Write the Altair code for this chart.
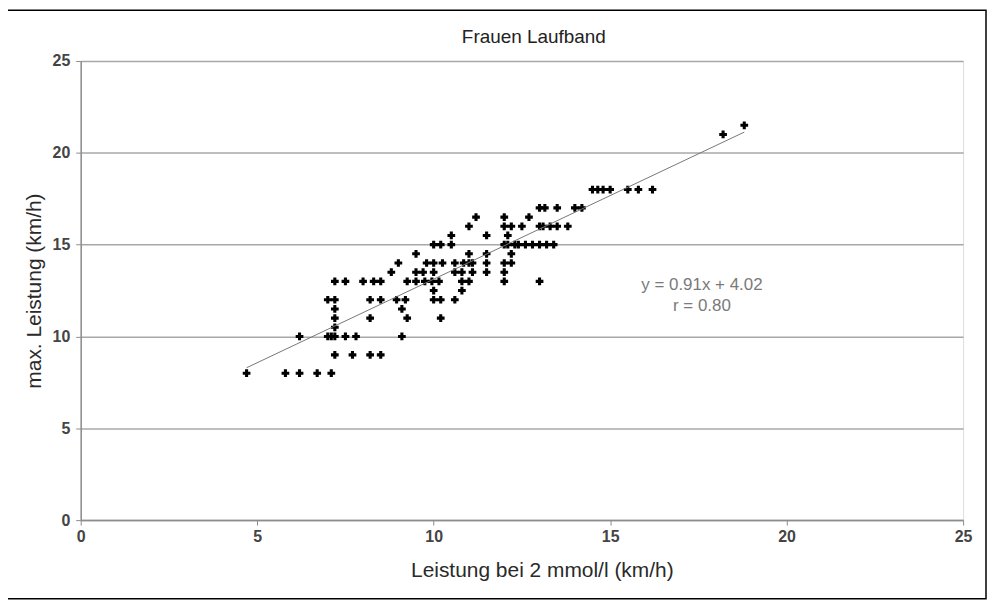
import altair as alt
import pandas as pd

# --- data ---
y_rows = [8, 9, 10, 10.5, 11, 11.5, 12, 12.5, 13, 13.5, 14, 14.5, 15, 15.5, 16, 16.5, 17, 18, 21, 21.5]
x_rows = [
    [4.7, 5.8, 6.2, 6.7, 7.1],
    [7.2, 7.7, 8.2, 8.5],
    [6.2, 7.0, 7.1, 7.2, 7.5, 7.8, 9.1],
    [7.2],
    [7.2, 8.2, 9.25, 10.2],
    [7.2, 9.1],
    [7.0, 7.2, 8.2, 8.5, 8.95, 9.2, 10.0, 10.2, 10.6],
    [10.0, 10.8],
    [7.2, 7.5, 8.0, 8.3, 8.5, 9.25, 9.5, 9.75, 9.95, 10.15, 10.8, 11.0, 12.0, 13.0],
    [8.8, 9.5, 9.7, 10.0, 10.6, 10.8, 11.1, 11.5, 12.0],
    [9.0, 9.8, 10.0, 10.25, 10.6, 10.85, 11.0, 11.1, 11.5, 12.0, 12.2],
    [9.5, 11.0, 11.5, 12.2],
    [10.0, 10.2, 10.5, 12.0, 12.1, 12.3, 12.4, 12.6, 12.8, 13.0, 13.2, 13.4],
    [10.5, 11.5, 12.1],
    [11.0, 12.0, 12.2, 12.5, 13.0, 13.1, 13.3, 13.5, 13.8],
    [11.2, 12.0, 12.7],
    [13.0, 13.15, 13.5, 14.0, 14.2],
    [14.5, 14.65, 14.8, 15.0, 15.5, 15.8, 16.2],
    [18.2],
    [18.8],
]
slope = 0.91
intercept = 4.02
eq_label = "y = 0.91x + 4.02"
r_label = "r = 0.80"
x_ticks = [0, 5, 10, 15, 20, 25]
y_ticks = [0, 5, 10, 15, 20, 25]

title_text = "Frauen Laufband"
x_title = "Leistung bei 2 mmol/l (km/h)"
y_title = "max. Leistung (km/h)"

xs, ys = [], []
for yv, row in zip(y_rows, x_rows):
    for xv in row:
        xs.append(xv)
        ys.append(yv)
pts = pd.DataFrame({"x": xs, "y": ys})

x_lo, x_hi = min(xs), max(xs)
trend = pd.DataFrame({"x": [x_lo, x_hi], "y": [slope * x_lo + intercept, slope * x_hi + intercept]})

FONT = "Liberation Sans"
W, H = 886, 461
LBL = 16

xscale = alt.Scale(domain=[0, 25], nice=False, zero=True)
yscale = alt.Scale(domain=[0, 25], nice=False, zero=True)

xaxis = alt.Axis(values=x_ticks, grid=False, title=x_title, titlePadding=16, titleX=463,
                 labelFontSize=LBL, titleFontSize=21, labelColor="#444", titleColor="#2a2a2a",
                 domainColor="#8c8c8c", tickColor="#8c8c8c", tickSize=5, domainWidth=1.5,
                 titleFont=FONT, labelFont=FONT, titleFontWeight="normal", labelPadding=3,
                 labelFontWeight="bold", labelFlush=False, labelOverlap=False)
yaxis = alt.Axis(values=y_ticks, grid=True, gridColor="#a8a8a8", gridWidth=1.5, title=y_title,
                 titlePadding=8, labelFontSize=LBL, titleFontSize=21, labelColor="#444",
                 titleColor="#2a2a2a", domainColor="#8c8c8c", tickColor="#8c8c8c", tickSize=5,
                 domainWidth=1.5, titleFont=FONT, labelFont=FONT, titleFontWeight="normal",
                 labelPadding=6, labelFontWeight="bold", labelFlush=False, labelOverlap=False)

frame = alt.Chart(pd.DataFrame({"a": [0]})).mark_rect(
    filled=False, stroke="#000", strokeWidth=1.5, clip=False
).encode(x=alt.value(-74), x2=alt.value(909), y=alt.value(-51), y2=alt.value(540))

title_mark = alt.Chart(pd.DataFrame({"t": [title_text]})).mark_text(
    fontSize=19, font=FONT, color="#222", align="center", baseline="alphabetic"
).encode(x=alt.value(455), y=alt.value(-18), text="t:N")

scatter = alt.Chart(pts).mark_point(shape="cross", filled=True, size=60, color="#000", opacity=1).encode(
    x=alt.X("x:Q", scale=xscale, axis=xaxis),
    y=alt.Y("y:Q", scale=yscale, axis=yaxis),
)

line = alt.Chart(trend).mark_line(color="#777", strokeWidth=1).encode(
    x=alt.X("x:Q", scale=xscale, axis=xaxis),
    y=alt.Y("y:Q", scale=yscale, axis=yaxis),
)

ann = pd.DataFrame({"t": [eq_label, r_label], "x": [17.6, 17.6], "y": [12.8, 11.65]})
txt = alt.Chart(ann).mark_text(fontSize=17, color="#7a7a7a", font=FONT).encode(
    x=alt.X("x:Q", scale=xscale, axis=xaxis), y=alt.Y("y:Q", scale=yscale, axis=yaxis), text="t:N"
)

chart = alt.layer(scatter, line, txt, frame, title_mark).properties(
    width=W, height=H,
    autosize=alt.AutoSizeParams(type="none"),
    padding={"left": 73, "top": 52, "right": 25, "bottom": 80},
).configure_view(stroke="#8c8c8c", strokeWidth=1.5).configure_axis(
    labelFontSize=LBL, titleFontSize=21, labelFont=FONT, titleFont=FONT
).configure(background="white")

chart.save("out.html", embed_options={"renderer": "svg", "actions": False})
